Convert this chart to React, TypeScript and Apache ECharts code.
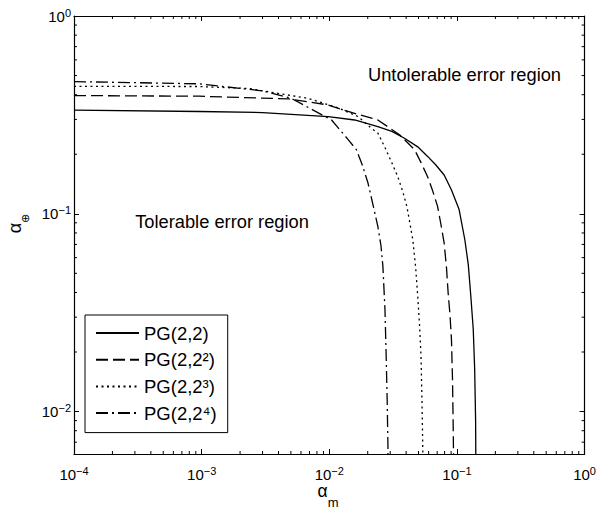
import React, { useEffect, useRef } from 'react';
import * as echarts from 'echarts';

const X_MIN = 1e-4;
const X_MAX = 1;
const Y_MIN = 0.0061;
const Y_MAX = 1;

const seriesNames = ['PG(2,2)', 'PG(2,2\u00b2)', 'PG(2,2\u00b3)', 'PG(2,2\u2074)'];

const pg1X = [1e-4, 9.6e-4, 3e-3, 9.8e-3, 0.0158, 0.024, 0.0309, 0.0388, 0.0493, 0.0589, 0.0681, 0.0794, 0.0906, 0.104, 0.1153, 0.1227, 0.1285, 0.1342, 0.1377, 0.14, 0.1405, 0.141];
const pg1Y = [0.334, 0.329, 0.325, 0.31, 0.298, 0.276, 0.261, 0.241, 0.218, 0.195, 0.177, 0.157, 0.132, 0.105, 0.0739, 0.0553, 0.0382, 0.026, 0.0163, 0.0091, 0.0061, 0.0045];

const pg2X = [1e-4, 9.6e-4, 4.8e-3, 9.8e-3, 0.01406, 0.024, 0.0355, 0.0465, 0.052, 0.0589, 0.0644, 0.0705, 0.075, 0.0794, 0.0828, 0.0853, 0.0883, 0.0906, 0.0923, 0.0933, 0.094, 0.0944];
const pg2Y = [0.396, 0.393, 0.381, 0.355, 0.329, 0.298, 0.251, 0.211, 0.183, 0.154, 0.131, 0.109, 0.088, 0.0711, 0.0534, 0.0398, 0.0305, 0.0231, 0.0145, 0.0091, 0.0061, 0.0045];

const pg3X = [1e-4, 9.6e-4, 2.34e-3, 6.87e-3, 0.01175, 0.0168, 0.0213, 0.024, 0.0278, 0.0309, 0.0344, 0.0377, 0.0405, 0.0426, 0.0451, 0.0475, 0.0493, 0.0509, 0.0523, 0.0532, 0.054, 0.0542];
const pg3Y = [0.441, 0.44, 0.43, 0.383, 0.343, 0.31, 0.271, 0.256, 0.211, 0.181, 0.154, 0.129, 0.109, 0.0911, 0.0739, 0.0534, 0.0382, 0.0275, 0.019, 0.0115, 0.00643, 0.0045];

const pg4X = [1e-4, 9.6e-4, 3e-3, 4.98e-3, 0.01042, 0.01406, 0.0163, 0.0181, 0.0201, 0.022, 0.024, 0.0254, 0.0263, 0.0273, 0.0279, 0.0284, 0.0288, 0.0289];
const pg4Y = [0.466, 0.454, 0.418, 0.385, 0.298, 0.237, 0.211, 0.177, 0.143, 0.111, 0.0863, 0.0689, 0.0542, 0.0327, 0.019, 0.0115, 0.0067, 0.0045];

const xMinorTicks = [
  2e-4, 3e-4, 4e-4, 5e-4, 6e-4, 7e-4, 8e-4, 9e-4,
  2e-3, 3e-3, 4e-3, 5e-3, 6e-3, 7e-3, 8e-3, 9e-3,
  2e-2, 3e-2, 4e-2, 5e-2, 6e-2, 7e-2, 8e-2, 9e-2,
  2e-1, 3e-1, 4e-1, 5e-1, 6e-1, 7e-1, 8e-1, 9e-1,
];
const yMinorTicks = [
  7e-3, 8e-3, 9e-3,
  2e-2, 3e-2, 4e-2, 5e-2, 6e-2, 7e-2, 8e-2, 9e-2,
  2e-1, 3e-1, 4e-1, 5e-1, 6e-1, 7e-1, 8e-1, 9e-1,
];

const FONT = "'Liberation Sans', Arial, Helvetica, sans-serif";

const lineTypes: any[] = ['solid', [12, 5], [2, 3.5], [12, 4, 2, 4]];
const seriesX = [pg1X, pg2X, pg3X, pg4X];
const seriesY = [pg1Y, pg2Y, pg3Y, pg4Y];

function powLabel(v: number) {
  const lg = Math.log10(v);
  const e = Math.round(lg);
  if (Math.abs(lg - e) > 1e-6) return '';
  const exp = e === 0 ? '0' : '\u2212' + String(-e);
  return '{b|10}{s|' + exp + '}';
}

const tickRich = {
  b: { fontFamily: FONT, fontSize: 15, lineHeight: 18, color: '#000' },
  s: { fontFamily: FONT, fontSize: 11, lineHeight: 6, padding: [0, 0, 12, 0], color: '#000', verticalAlign: 'top' },
};

function minorTickSeries(values: number[], horizontal: boolean) {
  return {
    type: 'custom',
    xAxisIndex: 0,
    yAxisIndex: 0,
    silent: true,
    z: 6,
    data: values.map((v) => (horizontal ? [v, Y_MIN] : [X_MIN, v])),
    renderItem: (params: any, api: any) => {
      const style = { stroke: '#000', lineWidth: 1 };
      if (horizontal) {
        const v = api.value(0);
        const b = api.coord([v, Y_MIN]);
        const t = api.coord([v, Y_MAX]);
        return {
          type: 'group',
          children: [
            { type: 'line', shape: { x1: b[0], y1: b[1], x2: b[0], y2: b[1] - 3 }, style },
            { type: 'line', shape: { x1: t[0], y1: t[1], x2: t[0], y2: t[1] + 3 }, style },
          ],
        };
      }
      const v = api.value(1);
      const l = api.coord([X_MIN, v]);
      const r = api.coord([X_MAX, v]);
      return {
        type: 'group',
        children: [
          { type: 'line', shape: { x1: l[0], y1: l[1], x2: l[0] + 3, y2: l[1] }, style },
          { type: 'line', shape: { x1: r[0], y1: r[1], x2: r[0] - 3, y2: r[1] }, style },
        ],
      };
    },
  };
}

export default function App() {
  const ref = useRef<HTMLDivElement>(null);
  useEffect(() => {
    if (!ref.current) return;
    const chart = echarts.init(ref.current, null, { renderer: 'svg' });
    const axisCommon = {
      type: 'log',
      logBase: 10,
      axisLine: { show: true, lineStyle: { color: '#000', width: 1.2 } },
      axisTick: { show: true, inside: true, length: 5, lineStyle: { color: '#000', width: 1 } },
      splitLine: { show: false },
      minorTick: { show: false },
    };
    const lines = seriesNames.map((name, i) => ({
      name,
      type: 'line',
      xAxisIndex: 0,
      yAxisIndex: 0,
      symbol: 'none',
      z: 4,
      clip: true,
      lineStyle: { color: '#000', width: 1.3, type: lineTypes[i] },
      itemStyle: { color: '#000' },
      data: seriesX[i].map((x, j) => [x, seriesY[i][j]]),
    }));
    const option: any = {
      animation: false,
      backgroundColor: '#fff',
      grid: { left: 74, top: 16, right: 11, bottom: 54, containLabel: false },
      xAxis: [
        {
          ...axisCommon,
          position: 'bottom',
          min: X_MIN,
          max: X_MAX,
          axisLabel: { show: true, margin: 11, formatter: powLabel, rich: tickRich, showMinLabel: true, showMaxLabel: true },
        },
        {
          ...axisCommon,
          position: 'top',
          min: X_MIN,
          max: X_MAX,
          axisLabel: { show: false },
        },
      ],
      yAxis: [
        {
          ...axisCommon,
          position: 'left',
          min: Y_MIN,
          max: Y_MAX,
          axisLabel: { show: true, margin: 3, formatter: powLabel, rich: tickRich, showMaxLabel: true },
        },
        {
          ...axisCommon,
          position: 'right',
          min: Y_MIN,
          max: Y_MAX,
          axisLabel: { show: false },
        },
      ],
      legend: {
        data: seriesNames,
        orient: 'vertical',
        left: 85,
        top: 315,
        padding: [8.5, 11, 10, 10],
        itemWidth: 43,
        itemHeight: 14,
        itemGap: 7.7,
        selectedMode: false,
        backgroundColor: '#fff',
        borderColor: '#000',
        borderWidth: 1,
        borderRadius: 0,
        itemStyle: { color: 'rgba(0,0,0,0)', borderColor: 'rgba(0,0,0,0)', borderWidth: 0, opacity: 0 },
        textStyle: {
          fontFamily: FONT,
          fontSize: 18.5,
          lineHeight: 16,
          color: '#000',
        },
      },
      graphic: [
        {
          type: 'text',
          x: 464.5,
          y: 74,
          style: { text: 'Untolerable error region', font: '18.3px ' + FONT, fill: '#000', align: 'center', verticalAlign: 'middle' },
        },
        {
          type: 'text',
          x: 222,
          y: 221,
          style: { text: 'Tolerable error region', font: '18.3px ' + FONT, fill: '#000', align: 'center', verticalAlign: 'middle' },
        },
        {
          type: 'text',
          x: 328,
          y: 496,
          style: {
            text: '{a|\u03b1}{m|m}',
            align: 'center',
            verticalAlign: 'middle',
            rich: {
              a: { fontFamily: FONT, fontSize: 17.5, lineHeight: 10, padding: [0, 0, 10, 0], fill: '#000', color: '#000' },
              m: { fontFamily: FONT, fontSize: 13, lineHeight: 8, padding: [12, 0, 0, 0], fill: '#000', color: '#000' },
            },
          },
        },
        {
          type: 'text',
          x: 18,
          y: 223.5,
          rotation: Math.PI / 2,
          style: {
            text: '{a|\u03b1}{m|\u2295}',
            align: 'center',
            verticalAlign: 'middle',
            rich: {
              a: { fontFamily: FONT, fontSize: 18, lineHeight: 20, padding: [0, 0, 6, 0], fill: '#000', color: '#000' },
              m: { fontFamily: FONT, fontSize: 11, lineHeight: 12, padding: [14, 0, 0, 0], fill: '#000', color: '#000' },
            },
          },
        },
      ],
      series: [...lines, minorTickSeries(xMinorTicks, true), minorTickSeries(yMinorTicks, false)],
    };
    chart.setOption(option);
    return () => chart.dispose();
  }, []);
  return <div ref={ref} style={{ width: 599, height: 508, position: 'absolute', left: 0, top: 0 }} />;
}
